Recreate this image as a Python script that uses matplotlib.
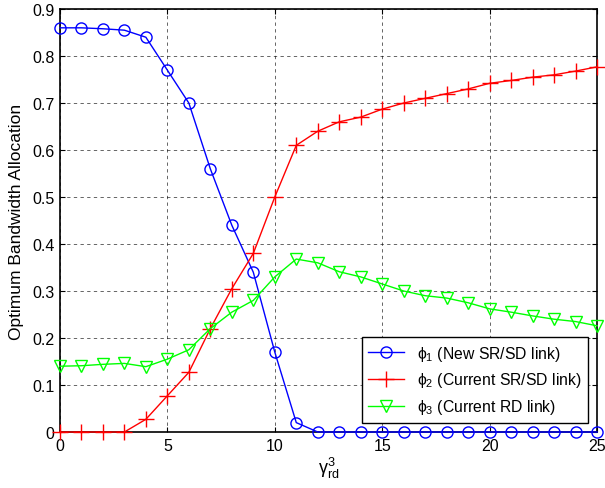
import numpy as np
import matplotlib.pyplot as plt

plt.rcParams['font.family'] = ['Liberation Sans', 'DejaVu Sans']
plt.rcParams['mathtext.fontset'] = 'custom'
plt.rcParams['mathtext.rm'] = 'Liberation Sans'
plt.rcParams['mathtext.it'] = 'Liberation Sans'

# datos
gamma = np.arange(0, 26)
phi1 = [0.86, 0.86, 0.858, 0.855, 0.84, 0.77, 0.70, 0.56, 0.44, 0.34, 0.17, 0.02,
        0, 0, 0, 0, 0, 0, 0, 0, 0, 0, 0, 0, 0, 0]
phi2 = [0, 0, 0, 0, 0.027, 0.077, 0.127, 0.22, 0.305, 0.38, 0.50, 0.61, 0.64,
        0.66, 0.67, 0.687, 0.70, 0.71, 0.72, 0.73, 0.742, 0.748, 0.755, 0.76,
        0.768, 0.777]
phi3 = [0.14, 0.141, 0.144, 0.146, 0.139, 0.155, 0.175, 0.22, 0.255, 0.28, 0.33,
        0.368, 0.36, 0.341, 0.33, 0.315, 0.30, 0.29, 0.285, 0.275, 0.262, 0.255,
        0.247, 0.24, 0.235, 0.226]
labels = ['ϕ$_1$ (New SR/SD link)', 'ϕ$_2$ (Current SR/SD link)',
          'ϕ$_3$ (Current RD link)']

fig = plt.figure(figsize=(6.05, 4.89), dpi=100)
ax = fig.add_axes([0.099, 0.1145, 0.888, 0.865])

ax.plot(gamma, phi1, '-o', color='blue', mfc='none', ms=8, lw=1,
        label=labels[0], clip_on=False, zorder=3)
ax.plot(gamma, phi2, '-+', color='red', ms=11, mew=1, lw=1,
        label=labels[1], clip_on=False, zorder=3)
ax.plot(gamma, phi3, '-v', color='#00ff00', mfc='none', ms=9, lw=1,
        label=labels[2], clip_on=False, zorder=3)

ax.set_xlim(0, 25)
ax.set_ylim(0, 0.9)
ax.set_xticks([0, 5, 10, 15, 20, 25])
ax.set_yticks(np.arange(0, 0.91, 0.1))
ax.set_yticklabels(['0', '0.1', '0.2', '0.3', '0.4', '0.5', '0.6', '0.7', '0.8', '0.9'])
ax.tick_params(direction='in', labelsize=11.5, top=True, right=True, pad=4)
ax.grid(True, linestyle=(0, (4, 4)), color='k', lw=0.6, alpha=0.7)
for s in ax.spines.values():
    s.set_linewidth(1.2)

ax.set_xlabel('γ$^{3}_{\\mathrm{rd}}$', fontsize=13, labelpad=2)
ax.set_ylabel('Optimum Bandwidth Allocation', fontsize=12.5, labelpad=6)

leg = ax.legend(loc='lower right', fontsize=11.3, fancybox=False, framealpha=1,
                edgecolor='k', borderaxespad=0.6, handlelength=2.3)
leg.get_frame().set_linewidth(1)
leg.set_zorder(5)

plt.savefig('out.png')
